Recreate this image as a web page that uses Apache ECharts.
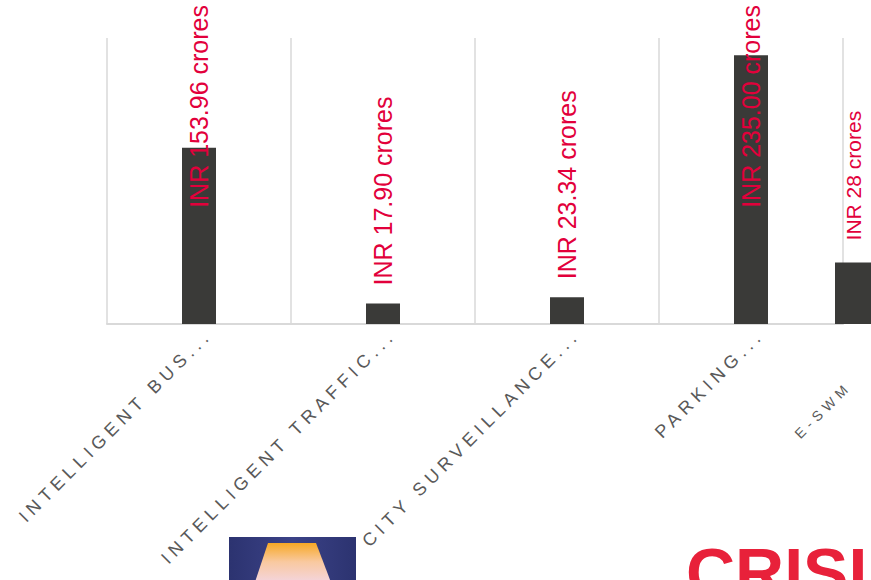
<!DOCTYPE html>
<html>
<head>
<meta charset="utf-8">
<script src="https://cdn.jsdelivr.net/npm/echarts@6/dist/echarts.min.js"></script>
<style>
html,body{margin:0;padding:0;background:#fff;}
#chart{width:871px;height:580px;}
#chart text[fill="#595959"], #chart text[fill="rgb(89,89,89)"]{letter-spacing:5.1px;}
#chart text[fill="#5a5a5a"], #chart text[fill="rgb(90,90,90)"]{letter-spacing:5px;}
</style>
</head>
<body>
<div id="chart"></div>
<script>
// ---- data ----
const categories = ['INTELLIGENT BUS...', 'INTELLIGENT TRAFFIC...', 'CITY SURVEILLANCE...', 'PARKING...'];
const values = [153.96, 17.90, 23.34, 235.00];
const valueLabels = ['INR 153.96 crores', 'INR 17.90 crores', 'INR 23.34 crores', 'INR 235.00 crores'];
const eswmCategories = ['E-SWM'];
const eswmValues = [28];
const eswmLabels = ['INR 28 crores'];

const RED = '#E2003B';
const BAR = '#3A3A38';
const chart = echarts.init(document.getElementById('chart'), null, {renderer: 'svg'});

const option = {
  animation: false,
  backgroundColor: '#ffffff',
  grid: [
    {left: 107, right: 28, top: 38, bottom: 256},
    {left: 835, width: 36, top: 38, bottom: 256}
  ],
  xAxis: [
    {
      type: 'category', gridIndex: 0, data: categories,
      axisLine: {lineStyle: {color: '#d9d9d9', width: 2}},
      axisTick: {show: false},
      splitLine: {show: true, lineStyle: {color: '#d9d9d9', width: 1.5}},
      axisLabel: {
        interval: 0, rotate: 45, margin: 18, color: '#595959',
        fontFamily: 'Liberation Sans', fontSize: 18, hideOverlap: false,
        padding: [24, -14, 0, 0]
      }
    },
    {
      type: 'category', gridIndex: 1, data: eswmCategories,
      axisLine: {show: false}, axisTick: {show: false}, splitLine: {show: false},
      axisLabel: {
        interval: 0, rotate: 45, margin: 56, color: '#5a5a5a',
        fontFamily: 'Liberation Sans', fontSize: 14, padding: [0, 6, 0, 0]
      }
    }
  ],
  yAxis: [
    {type: 'value', gridIndex: 0, min: 0, max: 250, show: false, splitLine: {show: false}},
    {type: 'value', gridIndex: 1, min: 0, max: 130, show: false, splitLine: {show: false}}
  ],
  series: [
    {
      type: 'bar', xAxisIndex: 0, yAxisIndex: 0, barWidth: 34,
      itemStyle: {color: BAR},
      data: values.slice(),
      label: {
        show: true, position: 'top', rotate: 90, align: 'left', verticalAlign: 'middle',
        distance: 18, color: RED, fontFamily: 'Liberation Sans', fontSize: 25,
        formatter: p => valueLabels[p.dataIndex]
      }
    },
    {
      type: 'bar', xAxisIndex: 1, yAxisIndex: 1, barWidth: '100%',
      itemStyle: {color: BAR},
      data: eswmValues.slice(),
      label: {
        show: true, position: 'top', rotate: 90, align: 'left', verticalAlign: 'middle',
        distance: 22, color: RED, fontFamily: 'Liberation Sans', fontSize: 21,
        formatter: p => eswmLabels[p.dataIndex]
      }
    }
  ],
  graphic: [
    {
      type: 'rect', shape: {x: 229, y: 537, width: 127, height: 50},
      style: {fill: {type: 'linear', x: 0, y: 0, x2: 1, y2: 0, colorStops: [
        {offset: 0, color: '#2C3370'}, {offset: 0.5, color: '#3B4287'}, {offset: 1, color: '#2C3370'}]}}
    },
    {
      type: 'polygon', shape: {points: [[268, 543], [316, 543], [332, 585], [254, 585]]},
      style: {fill: {type: 'linear', x: 0, y: 0, x2: 0, y2: 1, colorStops: [
        {offset: 0, color: '#F7A825'}, {offset: 0.45, color: '#F9C9A0'}, {offset: 1, color: '#F3D6E6'}]}}
    },
    {
      type: 'text', left: 686, top: 538,
      style: {text: 'CRISIL', fill: '#E8213A', font: 'bold 68px "Liberation Sans"'}
    }
  ]
};

chart.setOption(option);

// Keep value labels inside the top of the picture (as in the reference)
function measure(text, font) {
  const c = document.createElement('canvas').getContext('2d');
  c.font = font;
  return c.measureText(text).width;
}
const topLimit = 5;
const newData = values.map((v, i) => {
  const y = chart.convertToPixel({xAxisIndex: 0, yAxisIndex: 0}, [i, v])[1];
  const len = measure(valueLabels[i], '25px "Liberation Sans"');
  const anchor = Math.max(y - 18, topLimit + len);
  return {value: v, label: {distance: y - anchor}};
});
chart.setOption({series: [{data: newData}, {}]});
</script>
</body>
</html>
